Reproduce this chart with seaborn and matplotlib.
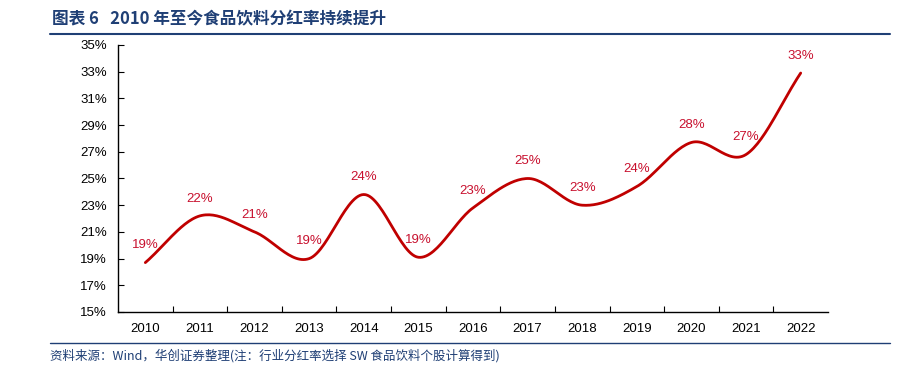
import numpy as np
import pandas as pd
import matplotlib
matplotlib.use("Agg")
import matplotlib.pyplot as plt
import seaborn as sns

years = ["2010", "2011", "2012", "2013", "2014", "2015", "2016",
         "2017", "2018", "2019", "2020", "2021", "2022"]
payout = [18.7, 22.2, 21.0, 19.0, 23.8, 19.1, 22.8, 25.0, 23.0, 24.4, 27.7, 26.8, 32.9]
labels = ["19%", "22%", "21%", "19%", "24%", "19%", "23%", "25%", "23%", "24%", "28%", "27%", "33%"]
yticks = [15, 17, 19, 21, 23, 25, 27, 29, 31, 33, 35]

sns.set_theme(style="white")
plt.rcParams['font.family'] = ['Liberation Sans', 'Noto Sans CJK SC', 'DejaVu Sans']

fig = plt.figure(figsize=(9.02, 3.75), dpi=100)
ax = fig.add_axes([118/902, 1-312/375, (828-118)/902, (312-45)/375])

# smooth curve (Catmull-Rom rendering of the 13 points, like Excel's smoothed line)
x = np.arange(len(payout), dtype=float)
y = np.array(payout, dtype=float)
px = np.concatenate([[2*x[0]-x[1]], x, [2*x[-1]-x[-2]]])
py = np.concatenate([[2*y[0]-y[1]], y, [2*y[-1]-y[-2]]])
cx, cy = [], []
t = np.linspace(0, 1, 30)
for i in range(1, len(px)-2):
    p0, p1, p2, p3 = [np.array([px[j], py[j]]) for j in (i-1, i, i+1, i+2)]
    m1 = (p2 - p0) / 2
    m2 = (p3 - p1) / 2
    h00 = 2*t**3 - 3*t**2 + 1
    h10 = t**3 - 2*t**2 + t
    h01 = -2*t**3 + 3*t**2
    h11 = t**3 - t**2
    pts = (np.outer(h00, p1) + np.outer(h10, m1) + np.outer(h01, p2) + np.outer(h11, m2))
    cx.extend(pts[:, 0]); cy.extend(pts[:, 1])
curve = pd.DataFrame({"x": cx, "y": cy})
sns.lineplot(data=curve, x="x", y="y", ax=ax, color="#C00000", linewidth=2.0,
             sort=False, estimator=None)

for xi, yi, lab in zip(x, y, labels):
    ax.annotate(lab, (xi, yi), xytext=(0, 8), textcoords="offset points",
                ha="center", va="bottom", color="#C8102E", fontsize=9.5)

ax.set_xlim(-0.5, len(years) - 0.5)
ax.set_ylim(15, 35)
ax.set_yticks(yticks)
ax.set_yticklabels([f"{v}%" for v in yticks], fontsize=9.5, color="#000000")
ax.set_xticks(x)
ax.set_xticklabels(years, fontsize=9.5, color="#000000")
ax.set_xticks(np.arange(0.5, len(years) - 0.5, 1.0), minor=True)
ax.tick_params(axis="x", which="major", length=0, pad=8)
ax.tick_params(axis="x", which="minor", direction="in", length=4, width=0.8, color="black", bottom=True)
ax.tick_params(axis="y", direction="in", length=4, width=0.8, color="black", left=True, pad=8)
ax.set_xlabel("")
ax.set_ylabel("")
for s in ["top", "right"]:
    ax.spines[s].set_visible(False)
for s in ["left", "bottom"]:
    ax.spines[s].set_color("black")
    ax.spines[s].set_linewidth(1.0)

blue = "#1F3F75"
fig.text(52/902, 1-19/375, "图表 6   2010 年至今食品饮料分红率持续提升", fontsize=12, fontweight="bold",
         color=blue, va="center", ha="left", family=['Noto Sans CJK SC', 'DejaVu Sans'])
fig.add_artist(plt.Line2D([50/902, 890/902], [1-34/375, 1-34/375], color=blue, linewidth=1.5))
fig.add_artist(plt.Line2D([50/902, 890/902], [1-343/375, 1-343/375], color=blue, linewidth=1.0))
fig.text(50/902, 1-356/375, "资料来源：Wind，华创证券整理(注：行业分红率选择 SW 食品饮料个股计算得到)",
         fontsize=9, style="italic", color=blue, va="center", ha="left",
         family=['Noto Sans CJK SC', 'DejaVu Sans'])

fig.savefig("out.png", dpi=100)
